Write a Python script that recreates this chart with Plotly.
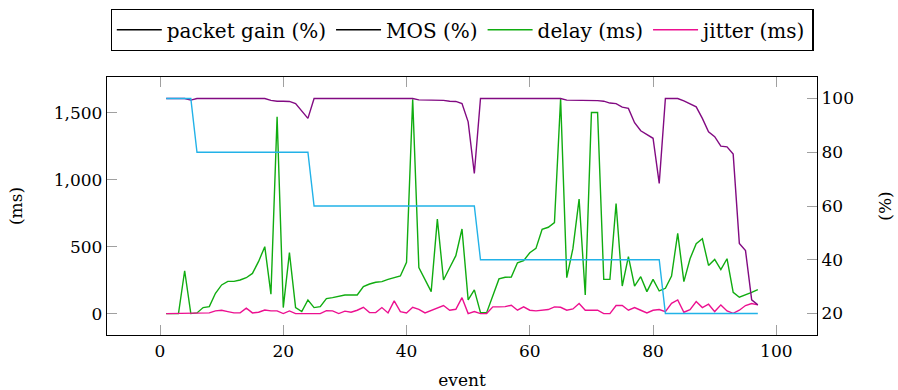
import plotly.graph_objects as go

events = list(range(1, 98))

packet_gain = [100]*5 + [80]*19 + [60]*27 + [40]*30 + [20]*16

mos = [100, 100, 100, 100, 99.4, 100, 100, 100, 100, 100,
       100, 100, 100, 100, 100, 100, 100, 99.3, 99.0, 99.0,
       98.9, 98.1, 95.3, 92.6, 100, 100, 100, 100, 100, 100,
       100, 100, 100, 100, 100, 100, 100, 100, 100, 100,
       100, 99.5, 99.5, 99.4, 99.3, 99.3, 99.0, 98.9, 98.1, 91.3,
       72.1, 100, 100, 100, 100, 100, 100, 100, 100, 100,
       100, 100, 100, 100, 100, 99.4, 99.4, 99.3, 99.3, 99.2,
       99.2, 99.0, 98.3, 98.1, 96.8, 96.3, 91.0, 88.0, 86.7, 85.2,
       68.4, 100, 100, 100, 99.1, 98.1, 96.9, 92.6, 87.6, 85.8,
       82.3, 82.0, 79.3, 46.1, 43.4, 25.1, 23.2]

delay = [0, 0, 0, 320, 0, 5, 45, 52, 152, 214,
         241, 241, 251, 268, 300, 390, 500, 145, 1470, 45,
         455, 45, 15, 102, 45, 52, 112, 119, 127, 139,
         139, 139, 201, 221, 234, 239, 256, 268, 281, 383,
         1602, 343, 251, 164, 706, 251, 343, 433, 632, 102,
         177, 7, 7, 139, 259, 271, 273, 380, 395, 455,
         487, 630, 645, 680, 1606, 268, 487, 856, 139, 1503,
         1503, 256, 256, 823, 206, 425, 206, 276, 164, 256,
         169, 189, 281, 600, 239, 410, 522, 559, 360, 405,
         328, 410, 159, 122, 139, 159, 179]

jitter = [0, 0, 0, 0, 0, 0, 0, 5, 20, 25,
          15, 5, 5, 40, 5, 10, 27, 20, 20, 0,
          20, 0, 0, 0, 0, 0, 22, 20, 0, 18,
          10, 25, 47, 7, 7, 45, 5, 95, 15, 5,
          47, 32, 5, 25, 45, 60, 25, 32, 119, 0,
          15, 0, 0, 50, 50, 52, 62, 25, 50, 25,
          20, 25, 30, 50, 47, 25, 35, 75, 25, 25,
          25, 0, 0, 60, 60, 25, 45, 25, 5, 25,
          30, 15, 77, 102, 10, 30, 90, 45, 70, 15,
          65, 20, 2, 25, 60, 75, 65]

FONT = "DejaVu Serif"
C_GAIN = "#22b2e8"
C_MOS = "#820a82"
C_DELAY = "#10ac10"
C_JIT = "#ec1090"

fig = go.Figure()
# legend entries (the reference legend shows black lines for the % series)
fig.add_trace(go.Scatter(x=[None], y=[None], mode="lines", name="packet gain (%)",
                         line=dict(color="black", width=1.4)))
fig.add_trace(go.Scatter(x=[None], y=[None], mode="lines", name="MOS (%)",
                         line=dict(color="black", width=1.4)))
fig.add_trace(go.Scatter(x=events, y=delay, mode="lines", name="delay (ms)",
                         line=dict(color=C_DELAY, width=1.4)))
fig.add_trace(go.Scatter(x=events, y=jitter, mode="lines", name="jitter (ms)",
                         line=dict(color=C_JIT, width=1.4)))
fig.add_trace(go.Scatter(x=events, y=mos, mode="lines", name="MOS (%)", showlegend=False,
                         line=dict(color=C_MOS, width=1.4), yaxis="y2"))
fig.add_trace(go.Scatter(x=events, y=packet_gain, mode="lines", name="packet gain (%)",
                         showlegend=False, line=dict(color=C_GAIN, width=1.4), yaxis="y2"))

axis_common = dict(showgrid=False, zeroline=False, showline=True, linecolor="black",
                   linewidth=1.3, ticks="inside", ticklen=10, tickcolor="#a0a0a0",
                   tickwidth=1, automargin=False,
                   tickfont=dict(family=FONT, size=17, color="black"))

fig.update_layout(
    width=898, height=390,
    margin=dict(l=107, r=81, t=77, b=55, autoexpand=False),
    paper_bgcolor="white", plot_bgcolor="white",
    font=dict(family=FONT, size=17, color="black"),
    xaxis=dict(range=[-8.6, 106.6], tickvals=[0, 20, 40, 60, 80, 100], mirror="ticks",
               title=dict(text="event", font=dict(family=FONT, size=17), standoff=17),
               **axis_common),
    yaxis=dict(range=[-160, 1768], tickvals=[0, 500, 1000, 1500], tickformat=",d",
               mirror=True,
               title=dict(text="(ms)", font=dict(family=FONT, size=17), standoff=26),
               **axis_common),
    yaxis2=dict(range=[12, 108], tickvals=[20, 40, 60, 80, 100], overlaying="y", side="right",
                title=dict(text="(%)", font=dict(family=FONT, size=17), standoff=26),
                **axis_common),
    legend=dict(orientation="h", x=0.5, xanchor="center", y=1.264, yanchor="top",
                bordercolor="black", borderwidth=1.3, bgcolor="white",
                font=dict(family=FONT, size=20, color="black"),
                itemwidth=45, tracegroupgap=0),
    showlegend=True,
)

fig.write_html("out.html")
